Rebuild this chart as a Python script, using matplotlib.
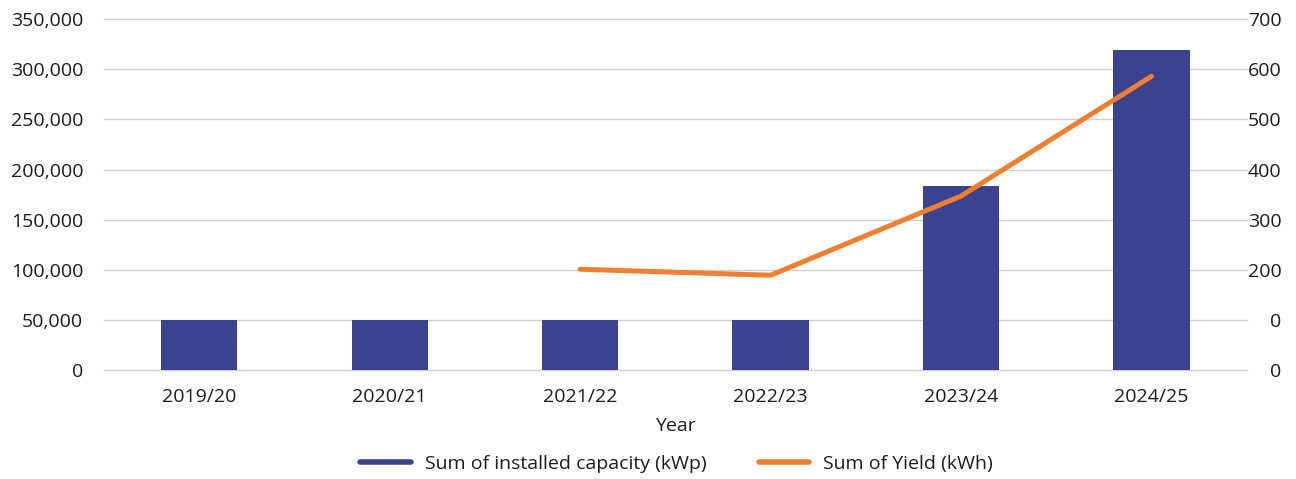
import numpy as np
from matplotlib import pyplot as plt
from matplotlib.lines import Line2D
from matplotlib.ticker import FuncFormatter

years = ['2019/20', '2020/21', '2021/22', '2022/23', '2023/24', '2024/25']
capacity = [50000, 50000, 50000, 50000, 183600, 319200]
yield_years = ['2021/22', '2022/23', '2023/24', '2024/25']
yield_kwh = [201, 189, 347, 586]

right_ticks = [0, 100, 200, 300, 400, 500, 600, 700]
right_labels = ['0', '0', '200', '300', '400', '500', '600', '700']

bar_color = '#3b438f'
line_color = '#f07f31'
text_color = '#1c1c1c'
fs = 14

plt.rcParams['font.family'] = ['Open Sans', 'DejaVu Sans']
plt.rcParams['font.size'] = fs
plt.rcParams['text.color'] = text_color

fig = plt.figure(figsize=(12.96, 4.79), dpi=100)
ax = fig.add_axes([0.0802, 0.2276, 0.962 - 0.0802, 0.960 - 0.2276])

x = np.arange(len(years))
ax.bar(x, capacity, width=0.4, color=bar_color, zorder=2)
ax.set_xlim(-0.5, len(years) - 0.5)
ax.set_ylim(0, 350000)
ax.set_yticks(np.arange(0, 350001, 50000))
ax.yaxis.set_major_formatter(FuncFormatter(lambda v, p: f'{int(v):,}'))
ax.set_xticks(x)
ax.set_xticklabels(years)
ax.grid(axis='y', color='#d0d0d0', linewidth=1, zorder=0)
for gl in ax.get_ygridlines():
    gl.set_clip_on(False)
ax.set_axisbelow(True)
for s in ax.spines.values():
    s.set_visible(False)
ax.tick_params(axis='both', length=0, colors=text_color, labelsize=fs)
ax.tick_params(axis='y', pad=15)
ax.tick_params(axis='x', pad=13)
ax.set_xlabel('Year', fontsize=fs, labelpad=8, color=text_color)

ax2 = ax.twinx()
yx = [years.index(y) for y in yield_years]
ax2.plot(yx, yield_kwh, color=line_color, linewidth=3.6,
         solid_capstyle='round', solid_joinstyle='round', zorder=3)
ax2.set_ylim(0, 700)
ax2.set_yticks(right_ticks)
ax2.set_yticklabels(right_labels)
for lab in ax2.get_yticklabels():
    lab.set_horizontalalignment('right')
ax2.tick_params(axis='y', length=0, pad=25, colors=text_color, labelsize=fs)
for s in ax2.spines.values():
    s.set_visible(False)

handles = [
    Line2D([], [], color=bar_color, linewidth=4, solid_capstyle='round'),
    Line2D([], [], color=line_color, linewidth=4, solid_capstyle='round'),
]
fig.legend(handles, ['Sum of installed capacity (kWp)', 'Sum of Yield (kWh)'],
           loc='center', bbox_to_anchor=(0.522, 0.031), ncol=2, frameon=False,
           fontsize=fs, handlelength=2.6, columnspacing=2.7, handletextpad=0.7)

fig.savefig('out.png', dpi=100)
